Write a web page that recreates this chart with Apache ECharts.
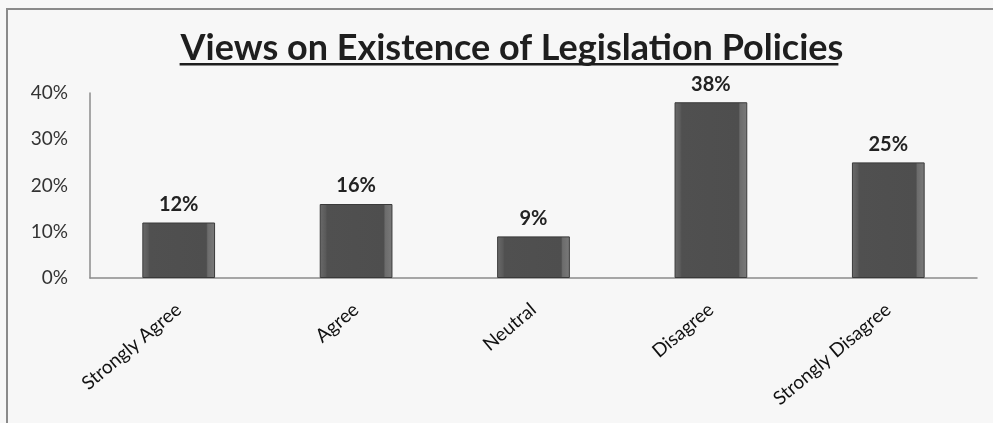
<!DOCTYPE html>
<html>
<head>
<meta charset="utf-8">
<script src="https://cdn.jsdelivr.net/npm/echarts@6/dist/echarts.min.js"></script>
<style>
  html, body { margin: 0; padding: 0; background: #f7f7f7; }
  #chart { width: 993px; height: 423px; }
</style>
</head>
<body>
<div id="chart"></div>
<script>
const titleText = 'Views on Existence of Legislation Policies';
const categories = ['Strongly Agree', 'Agree', 'Neutral', 'Disagree', 'Strongly Disagree'];
const values = [12, 16, 9, 38, 25];
const yTicks = [0, 10, 20, 30, 40];

const chart = echarts.init(document.getElementById('chart'), null, { renderer: 'canvas' });

const titleSize = 36;
const ctx = document.createElement('canvas').getContext('2d');
ctx.font = 'bold ' + titleSize + 'px Lato';
const tw = ctx.measureText(titleText).width;
const tcx = 507;

const option = {
  backgroundColor: '#f7f7f7',
  animation: false,
  title: {
    text: titleText,
    left: tcx, top: 25,
    textAlign: 'center',
    textStyle: { fontFamily: 'Lato', fontWeight: 'bold', fontSize: titleSize, color: '#1e1e1e' }
  },
  graphic: [
    { type: 'rect', shape: { x: 7, y: 9, width: 1100, height: 500 }, style: { fill: null, stroke: '#8a8a8a', lineWidth: 2 }, silent: true },
    { type: 'rect', shape: { x: tcx - tw / 2 + 4, y: 63, width: tw - 4, height: 2.5 }, style: { fill: '#1e1e1e' }, silent: true }
  ],
  grid: { left: 90, right: 16, top: 93, bottom: 145 },
  xAxis: {
    type: 'category',
    data: categories,
    axisLine: { show: true, lineStyle: { color: '#8c8c8c', width: 1.5 } },
    axisTick: { show: false },
    axisLabel: { rotate: 40, margin: 29, fontFamily: 'Lato', fontSize: 19, color: '#111', interval: 0 }
  },
  yAxis: {
    type: 'value',
    min: yTicks[0], max: yTicks[yTicks.length - 1], interval: 10,
    axisLine: { show: true, lineStyle: { color: '#8c8c8c', width: 1.5 } },
    axisTick: { show: false },
    splitLine: { show: false },
    axisLabel: { formatter: '{value}%', margin: 22, fontFamily: 'Lato', fontSize: 19, color: '#333' }
  },
  series: [{
    type: 'bar',
    data: values,
    barWidth: '41%',
    itemStyle: {
      color: new echarts.graphic.LinearGradient(0, 0, 1, 0, [
        { offset: 0, color: '#6a6a6a' },
        { offset: 0.08, color: '#5a5a5a' },
        { offset: 0.1, color: '#505050' },
        { offset: 0.88, color: '#4e4e4e' },
        { offset: 0.9, color: '#6c6c6c' },
        { offset: 1, color: '#7a7a7a' }
      ]),
      borderColor: '#3a3a3a',
      borderWidth: 1
    },
    label: {
      show: true, position: 'top', distance: 8,
      formatter: '{c}%',
      fontFamily: 'Lato', fontWeight: 'bold', fontSize: 20, color: '#222'
    }
  }]
};
chart.setOption(option);
</script>
</body>
</html>
